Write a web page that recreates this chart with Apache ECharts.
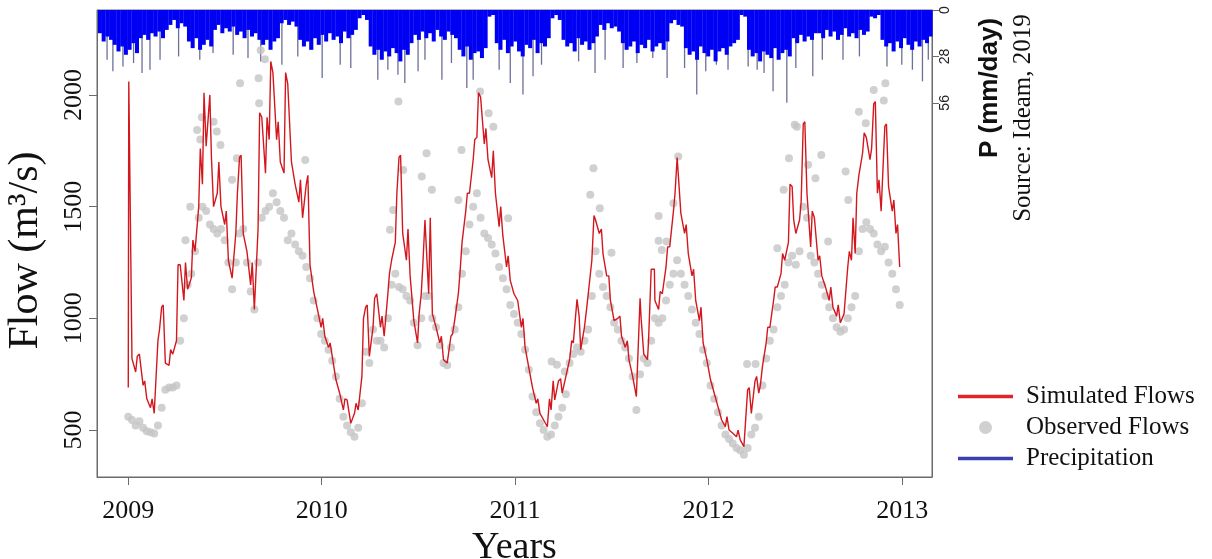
<!DOCTYPE html>
<html><head><meta charset="utf-8">
<script src="https://cdn.jsdelivr.net/npm/echarts@6/dist/echarts.min.js"></script>
<style>html,body{margin:0;padding:0;background:#fff}#c{width:1212px;height:559px}</style>
</head><body><div id="c"></div>
<script>
// ---- data (days since 2009-01-01) ----
const yearLabels = ['2009','2010','2011','2012','2013'];
const yearTickDays = [0,365,730,1095,1461];
const flowTicks = [500,1000,1500,2000];
const precipTicks = [0,28,56];

// simulated flow, weekly samples from day 0
const simFlow = [
 690,820,760,840,700,640,600,575,900,1050,
 800,790,840,900,1240,1080,1130,1180,1300,1500,
 1600,1770,2000,1500,1560,1500,1420,1260,1180,1380,
 1720,1380,1300,1150,1040,1400,1900,1650,1800,2100,
 1800,1700,1650,2050,1700,1600,1520,1450,1600,1240,
 1120,1040,960,
 920,870,830,725,665,590,635,530,575,590,
 740,1050,830,960,1110,960,920,1110,1260,1340,
 1720,1380,1260,1190,990,890,1110,1440,1110,1020,
 960,890,815,800,920,990,1110,1340,1480,1560,
 1710,1810,1990,1780,1710,1630,1560,1410,1370,1230,1170,1110,
 1080,960,870,780,690,620,575,545,515,590,
 635,720,665,740,815,890,1085,860,960,1040,
 1260,1440,1380,1290,1190,1080,990,1000,920,870,
 815,740,650,1090,840,815,1220,1080,1040,1110,
 1230,1320,1480,1720,1470,1380,1290,1190,1080,990,
 890,815,725,665,605,545,
 515,500,486,470,456,426,680,575,720,665,
 785,890,960,1080,1140,1200,1260,1340,1590,1380,
 1440,1870,1560,1320,1450,1260,1190,1140,1080,1050,
 1010,980,1020,1230,1260,1290,1640,1740,1810,1710,
 1960,1560,1480,1860,1590,1480,1380,1230
];
// short-lived simulated peaks between the weekly samples [day, flow]
const simSpikes = [
 [1,2060],[17,830],[31,720],[45,640],[59,950],[66,1060],[80,860],[94,1240],[108,1250],[122,1350],
 [136,1760],[143,2010],[157,1720],[171,1700],[185,1480],[206,1560],[213,1730],[234,1250],[248,1920],
 [262,1900],[269,2150],[283,1880],[297,2100],[311,1700],[325,1620],[339,1640],
 [367,1000],[381,890],[409,640],[430,620],[444,1000],[451,1060],[465,1090],[479,1010],[493,1200],
 [507,1560],[514,1730],[528,1400],[549,1020],[556,1240],[570,1450],[591,920],[612,930],[626,1200],
 [640,1560],[654,1800],[661,2010],[675,1850],[689,1750],[703,1500],[717,1280],
 [745,1000],[773,640],[795,640],[802,720],[816,730],[837,900],[851,1010],[865,1040],[879,1460],
 [893,1400],[907,1190],[928,1010],[942,900],[968,1000],[982,900],[993,1220],[1004,1120],[1018,1320],
 [1032,1560],[1039,1720],[1053,1420],[1067,1220],[1081,1050],
 [1130,560],[1151,500],[1172,690],[1186,740],[1193,700],[1207,960],[1221,1140],[1235,1290],
 [1249,1600],[1256,1440],[1270,1520],[1277,1880],[1291,1480],[1305,1280],[1326,1140],[1340,1060],
 [1361,1300],[1368,1450],[1375,1560],[1389,1830],[1403,1760],[1410,1970],[1417,1620],[1431,1870],
 [1445,1530],[1452,1420]
];

// observed flow, weekly samples from day 0
const obsFlow = [
 560,545,520,540,510,495,490,485,520,600,
 680,690,690,700,900,1000,1150,1200,1300,1450,
 1500,1480,1420,1400,1380,1400,1350,1250,1130,1250,
 1380,1400,1250,1120,1040,1250,1450,1480,1500,1560,
 1520,1480,1450,1350,1380,1330,1300,1280,1230,1180,
 1080,1000,930,
 900,860,810,740,640,560,520,490,470,510,
 620,850,800,950,900,900,870,1000,1150,1200,
 1140,1130,1100,1080,980,880,1000,1100,1100,1000,
 960,880,800,790,870,950,1050,1200,1300,1420,
 1500,1560,1450,1380,1360,1330,1290,1230,1180,1130,1060,1020,
 980,930,860,770,650,580,530,500,470,480,
 520,560,600,660,800,840,870,850,900,950,
 1100,1300,1200,1140,1100,1050,980,950,900,870,
 820,740,590,750,820,800,900,1000,980,1000,
 1080,1150,1200,1260,1200,1150,1100,1040,980,930,
 860,800,700,640,580,520,
 480,460,440,420,410,390,420,480,510,560,
 700,820,900,950,1050,1100,1150,1250,1280,1240,
 1300,1500,1450,1280,1250,1200,1150,1100,1050,1000,
 960,940,950,1000,1050,1100,1300,1400,1430,1400,
 1380,1330,1300,1320,1250,1200,1130,1060
];
// isolated observed values [day, flow]
const obsScatter = [
 [108,1350],[117,1500],[130,1843],[136,1800],[139,1900],[161,1880],[167,1836],[174,1776],
 [196,1620],[205,1716],[211,2052],[246,2075],[247,1963],[250,2200],[258,2160],[334,1709],
 [494,1396],[500,1485],[510,1970],[519,1664],[554,1635],[563,1739],[573,1575],[623,1530],
 [629,1754],[664,2015],[680,1918],[689,1858],[717,1448],
 [799,807],[809,792],[824,762],[872,1553],[878,1672],[890,1493],[912,1294],[1001,1458],
 [1001,1347],[1007,1306],[1016,1344],[1029,1515],[1038,1724],
 [1168,796],[1184,796],[1225,1314],[1237,1575],[1247,1717],[1258,1866],[1262,1858],
 [1283,1687],[1297,1627],[1308,1731],[1321,1344],[1354,1657],[1359,1530],[1379,1925],
 [1392,1873],[1407,2022],[1426,1975],[1429,2052]
];

// precipitation (mm/day), weekly samples from day -56
const precipBase = [
 14,19,16,18,21,25,22,27,
 24,20,26,17,15,18,14,
 16,13,17,12,
 9,6,11,8,10,
 19,23,17,24,21,18,22,
 12,9,14,11,13,10,
 15,13,17,12,16,14,18,
 21,18,24,19,17,
 8,6,9,7,10,
 18,22,19,24,17,21,
 15,19,14,18,16,20,13,17,15,12,
 5,3,6,
 22,27,24,30,25,28,23,26,31,24,27,20,
 15,18,13,17,14,19,12,16,18,13,15,17,
 24,28,22,30,26,25,29,23,
 4,3,
 20,24,18,26,22,19,25,28,21,23,18,26,20,22,17,
 5,3,6,
 18,22,20,25,17,21,19,24,20,16,
 9,12,8,11,10,13,
 20,24,22,19,26,21,23,18,25,22,20,24,19,
 8,6,9,10,
 23,27,25,30,22,26,28,24,31,25,23,27,22,20,18,
 3,4,
 24,28,26,31,25,27,29,23,30,26,24,28,
 17,20,15,19,16,18,14,
 14,17,12,16,13,18,15,11,16,14,17,12,15,13,
 4,5,3,
 18,22,20,25,19,23,17,21,24,19,22,18,20,16
];
// deeper single-day rain events [day, mm]
const precipSpikes = [
 [-40,30],[-29,37],[-10,34],[10,32],[26,38],[41,36],[60,30],[95,28],[135,30],[160,26],
 [198,27],[226,29],[250,31],[290,33],[320,28],[343,24],[366,41],[400,33],[420,35],[471,42],
 [490,36],[509,39],[522,44],[547,37],[560,30],[592,42],[610,32],[639,47],[651,42],[700,36],
 [721,44],[745,51],[764,40],[780,33],[850,31],[881,38],[900,30],[934,35],[960,32],[990,29],
 [1017,41],[1050,35],[1073,51],[1090,37],[1110,33],[1132,36],[1170,34],[1187,36],[1200,38],
 [1217,49],[1243,56],[1260,35],[1292,40],[1310,30],[1349,30],[1380,28],[1432,34],[1460,33],
 [1480,36],[1499,43],[1510,30]
];

const STEP = 7, PRECIP_START = -56;
const SERIF = '"Liberation Serif","Times New Roman",serif';
const SANS = '"Liberation Sans",Arial,sans-serif';
const AXC = '#6b6b6b';

const simData = simFlow.map((v,i)=>[i*STEP, v]).concat(simSpikes).sort((a,b)=>a[0]-b[0]);
const obsData = obsFlow.map((v,i)=>[i*STEP, v]).concat(obsScatter);
const precipData = precipBase.map((v,i)=>[PRECIP_START + i*STEP, v]);

const chart = echarts.init(document.getElementById('c'), null, {renderer:'canvas'});
chart.setOption({
  animation:false,
  backgroundColor:'#fff',
  grid:{left:97,right:280,top:10,bottom:82,show:true,borderColor:AXC,borderWidth:1,
        backgroundColor:'transparent',containLabel:false,outerBoundsMode:'none'},
  legend:{
    left:958, top:384, orient:'vertical', itemWidth:55, itemHeight:13, itemGap:6, padding:0,
    selectedMode:false,
    textStyle:{fontFamily:SERIF,fontSize:25,color:'#111',padding:[0,0,0,8]},
    data:[
      {name:'Simulated Flows', icon:'path://M0,0H55V3.5H0Z', itemStyle:{color:'#e0242a',borderWidth:0}},
      {name:'Observed Flows', icon:'circle', itemStyle:{color:'#c4c4c4',borderWidth:0}},
      {name:'Precipitation', icon:'path://M0,0H55V3.5H0Z', itemStyle:{color:'#3b3fb0',borderWidth:0}}
    ]
  },
  xAxis:{
    type:'value', min:-59, max:1517,
    axisLine:{show:true,onZero:false,lineStyle:{color:AXC}},
    axisTick:{show:true,customValues:yearTickDays,length:8,lineStyle:{color:AXC}},
    axisLabel:{customValues:yearTickDays, formatter:v=>yearLabels[yearTickDays.indexOf(v)],
      fontFamily:SERIF,fontSize:26,color:'#111',margin:21},
    splitLine:{show:false},
    name:'Years', nameLocation:'middle', nameGap:38,
    nameTextStyle:{fontFamily:SERIF,fontSize:38,color:'#111'}
  },
  yAxis:[
    {type:'value', min:290, max:2380, position:'left',
     axisLine:{show:true,onZero:false,lineStyle:{color:AXC}},
     axisTick:{show:true,customValues:flowTicks,length:8,lineStyle:{color:AXC}},
     axisLabel:{customValues:flowTicks, formatter:v=>String(v), rotate:90, fontFamily:SERIF,fontSize:26,color:'#111',margin:10},
     splitLine:{show:false},
     name:'Flow (m³/s)', nameLocation:'middle', nameRotate:90, nameGap:50,
     nameTextStyle:{fontFamily:SERIF,fontSize:42,color:'#111',padding:[0,0,0,-14]}
    },
    {type:'value', min:0, max:281.6, inverse:true, position:'right',
     axisLine:{show:true,onZero:false,lineStyle:{color:AXC}},
     axisTick:{show:true,customValues:precipTicks,length:7,lineStyle:{color:AXC}},
     axisLabel:{customValues:precipTicks, formatter:v=>String(v), rotate:90, fontFamily:SANS,fontSize:14,color:'#222',margin:6},
     splitLine:{show:false}
    }
  ],
  graphic:[
    {type:'text', x:990, y:88, rotation:Math.PI/2,
     style:{text:'P (mm/day)', font:'bold 26px "Liberation Sans", Arial, sans-serif', fill:'#111',
            align:'center', verticalAlign:'middle', textAlign:'center', textVerticalAlign:'middle'}},
    {type:'text', x:1023, y:118, rotation:Math.PI/2,
     style:{text:'Source: Ideam, 2019', font:'25px "Liberation Serif", "Times New Roman", serif', fill:'#111',
            align:'center', verticalAlign:'middle', textAlign:'center', textVerticalAlign:'middle'}}
  ],
  series:[
    {name:'Precipitation', type:'bar', xAxisIndex:0, yAxisIndex:1, data:precipData,
     barWidth:4, itemStyle:{color:'#0000f5'}, z:2},
    {name:'Precipitation', type:'bar', xAxisIndex:0, yAxisIndex:1, data:precipSpikes,
     barWidth:1.3, barGap:'-100%', itemStyle:{color:'#6c6f98'}, z:1},
    {name:'Observed Flows', type:'scatter', yAxisIndex:0, data:obsData,
     symbolSize:8, itemStyle:{color:'#c4c4c4'}, z:3},
    {name:'Simulated Flows', type:'line', yAxisIndex:0, data:simData,
     showSymbol:false, symbol:'none', lineStyle:{color:'#d2181e',width:1.4}, itemStyle:{color:'#e0242a'}, z:4}
  ]
});
</script></body></html>
